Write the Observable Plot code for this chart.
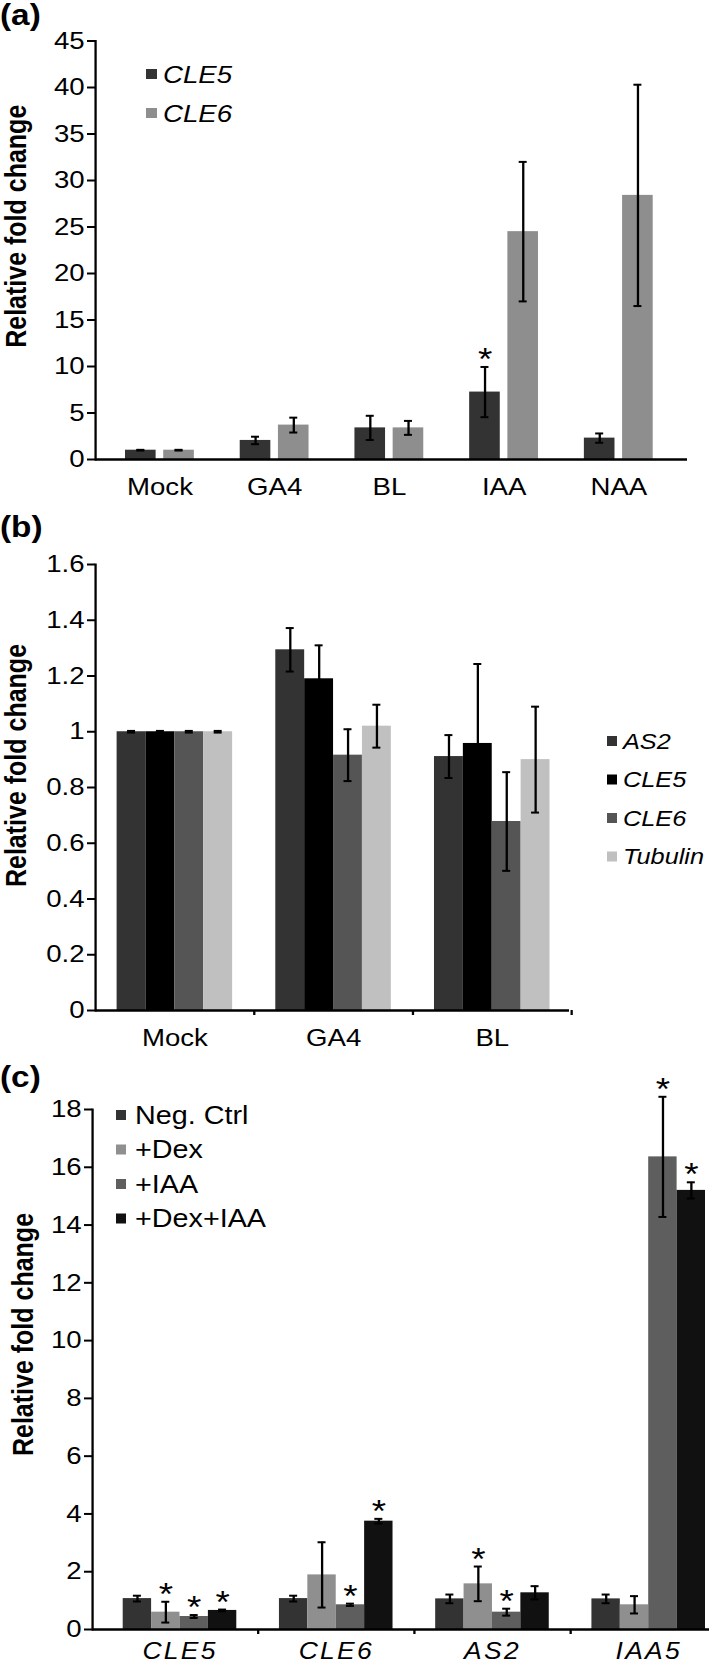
<!DOCTYPE html>
<html><head><meta charset="utf-8">
<script src="https://cdn.jsdelivr.net/npm/d3@7"></script>
<script src="https://cdn.jsdelivr.net/npm/@observablehq/plot@0.6"></script>
<style>
html,body{margin:0;padding:0;background:#fff;overflow:hidden}
#wrap{position:relative;width:709px;height:1665px;font-family:"Liberation Sans",Arial,sans-serif}
#wrap > svg{position:absolute;left:0;margin:0;max-width:none}
.pc g[aria-label="x-axis tick label"] text{letter-spacing:2px}
</style></head><body><div id="wrap"></div>
<script>
// ---------- Panel (a) data ----------
const aTreatments = ["Mock", "GA4", "BL", "IAA", "NAA"];
const aGenes = ["CLE5", "CLE6"];
const aColors = ["#333333", "#8e8e8e"];
const aCLE5 = [1.0, 2.05, 3.4, 7.25, 2.3];
const aCLE5err = [0.04, 0.4, 1.3, 2.7, 0.5];
const aCLE5sig = [false, false, false, true, false];
const aCLE6 = [1.0, 3.7, 3.4, 24.5, 28.4];
const aCLE6err = [0.04, 0.8, 0.75, 7.5, 11.9];
const aCLE6sig = [false, false, false, false, false];
const aTicks = [0, 5, 10, 15, 20, 25, 30, 35, 40, 45];

// ---------- Panel (b) data ----------
const bTreatments = ["Mock", "GA4", "BL"];
const bGenes = ["AS2", "CLE5", "CLE6", "Tubulin"];
const bColors = ["#333333", "#000000", "#555555", "#c0c0c0"];
const bAS2 = [1.0, 1.294, 0.911];
const bAS2err = [0.003, 0.078, 0.077];
const bCLE5 = [1.0, 1.19, 0.958];
const bCLE5err = [0.003, 0.12, 0.285];
const bCLE6 = [1.0, 0.916, 0.678];
const bCLE6err = [0.003, 0.093, 0.177];
const bTubulin = [1.0, 1.02, 0.9];
const bTubulinErr = [0.003, 0.077, 0.19];
const bTicks = [0, 0.2, 0.4, 0.6, 0.8, 1, 1.2, 1.4, 1.6];

// ---------- Panel (c) data ----------
const cGenes = ["CLE5", "CLE6", "AS2", "IAA5"];
const cTreatments = ["Neg. Ctrl", "+Dex", "+IAA", "+Dex+IAA"];
const cColors = ["#333333", "#8f8f8f", "#5e5e5e", "#111111"];
const cNeg = [1.07, 1.07, 1.06, 1.06];
const cNegErr = [0.1, 0.1, 0.15, 0.15];
const cNegSig = [false, false, false, false];
const cDex = [0.6, 1.89, 1.58, 0.855];
const cDexErr = [0.36, 1.13, 0.6, 0.3];
const cDexSig = [true, false, true, false];
const cIAA = [0.45, 0.855, 0.6, 16.36];
const cIAAErr = [0.05, 0.04, 0.12, 2.08];
const cIAASig = [true, true, true, true];
const cDexIAA = [0.66, 3.75, 1.27, 15.2];
const cDexIAAErr = [0.03, 0.08, 0.23, 0.28];
const cDexIAASig = [true, true, false, true];
const cTicks = [0, 2, 4, 6, 8, 10, 12, 14, 16, 18];

const FONT = "'Liberation Sans', Arial, Helvetica, sans-serif";
const S = 1.15;             // horizontal stretch of the original figure
const X = v => v / S;       // page px -> drawing units
const W0 = 709 / S;
const wrap = document.getElementById("wrap");

function stretch(svg, height, top) {
  svg.setAttribute("width", 709);
  svg.setAttribute("height", height);
  svg.setAttribute("preserveAspectRatio", "none");
  svg.style.width = "709px";
  svg.style.height = height + "px";
  svg.style.top = top + "px";
}

function groupedPanel(cfg) {
  const {cats, series, values, errs, sigs, colors, range, paddingInner, barGap = 0,
    yMax, yTicks, top, height, marginLeft, marginRight, marginTop, marginBottom,
    catItalic = false, catPad = 18, catSize = 24, boundaryTicks = false, titleX, titleDy, className = ""} = cfg;
  const r = range.map(X);
  const band = d3.scaleBand().domain(cats).range(r).paddingInner(paddingInner).paddingOuter(0);
  const bw = band.bandwidth(), step = band.step();
  const n = series.length;
  const gap = X(barGap);
  const w = (bw - (n - 1) * gap) / n;
  const cap = X(8);
  const pxPerUnit = (height - marginTop - marginBottom) / yMax;
  const rows = series.map((s, i) => cats.map((c, j) => ({
    cat: c, series: s, value: values[i][j], err: errs[i][j], sig: sigs ? sigs[i][j] : false
  })));
  const marks = [];
  series.forEach((s, i) => {
    const o = i * (w + gap);
    marks.push(Plot.barY(rows[i], {x: "cat", y: "value", fill: colors[i], insetLeft: o, insetRight: bw - o - w}));
  });
  marks.push(Plot.ruleY([0], {stroke: "black", strokeWidth: 2.5}));
  marks.push(Plot.frame({anchor: "left", stroke: "black", strokeWidth: 2}));
  if (boundaryTicks) {
    marks.push(Plot.ruleX(cats, {x: d => d, y1: 0, y2: -5 / pxPerUnit, dx: step / 2, stroke: "black", strokeWidth: 2}));
  }
  series.forEach((s, i) => {
    const o = i * (w + gap);
    const cx = o + w / 2 - bw / 2;
    const capL = o + w / 2 - cap / 2, capR = bw - (o + w / 2 + cap / 2);
    marks.push(Plot.ruleX(rows[i], {x: "cat", y1: d => d.value - d.err, y2: d => d.value + d.err, dx: cx, stroke: "black", strokeWidth: 2}));
    marks.push(Plot.tickY(rows[i], {x: "cat", y: d => d.value + d.err, insetLeft: capL, insetRight: capR, stroke: "black", strokeWidth: 2}));
    marks.push(Plot.tickY(rows[i], {x: "cat", y: d => d.value - d.err, insetLeft: capL, insetRight: capR, stroke: "black", strokeWidth: 2}));
    marks.push(Plot.text(rows[i].filter(d => d.sig), {x: "cat", y: d => d.value + d.err, text: () => "*", dx: cx, dy: 3, lineAnchor: "bottom", fontSize: 32, fill: "black"}));
  });
  marks.push(Plot.axisY({ticks: yTicks, tickFormat: d => String(d), tickSize: X(8), tickPadding: X(3), fontSize: 24, strokeWidth: 2, label: null}));
  marks.push(Plot.axisX({tickSize: 0, tickPadding: catPad, fontSize: catSize, fontStyle: catItalic ? "italic" : "normal", label: null}));
  marks.push(Plot.text(["Relative fold change"], {frameAnchor: "left", dx: X(titleX - marginLeft), dy: titleDy, rotate: -90, textAnchor: "middle", lineAnchor: "middle", fontWeight: "bold", fontSize: 25, fill: "black"}));
  const svg = Plot.plot({
    width: W0, height, marginLeft: X(marginLeft), marginRight: X(marginRight), marginTop, marginBottom,
    style: {fontFamily: FONT, color: "black", background: "transparent", overflow: "hidden"},
    x: {domain: cats, range: r, paddingInner, paddingOuter: 0, round: false},
    y: {domain: [0, yMax]},
    marks
  });
  stretch(svg, height, top);
  if (className) svg.classList.add(className);
  wrap.appendChild(svg);
}

// Panel (a)
groupedPanel({
  cats: aTreatments, series: aGenes, values: [aCLE5, aCLE6], errs: [aCLE5err, aCLE6err], sigs: [aCLE5sig, aCLE6sig],
  colors: aColors, range: [125, 652.7], paddingInner: 0.4, barGap: 7.6,
  yMax: 45, yTicks: aTicks, top: 0, height: 505, marginLeft: 95, marginRight: 22, marginTop: 40.5, marginBottom: 46,
  titleX: 16, titleDy: -24
});
// Panel (b)
groupedPanel({
  cats: bTreatments, series: bGenes, values: [bAS2, bCLE5, bCLE6, bTubulin], errs: [bAS2err, bCLE5err, bCLE6err, bTubulinErr],
  colors: bColors, range: [116.6, 549.5], paddingInner: 0.272,
  yMax: 1.6, yTicks: bTicks, top: 520, height: 540, marginLeft: 95, marginRight: 140, marginTop: 44, marginBottom: 50,
  boundaryTicks: true, titleX: 16, titleDy: -22
});
// Panel (c)
groupedPanel({
  cats: cGenes, series: cTreatments, values: [cNeg, cDex, cIAA, cDexIAA], errs: [cNegErr, cDexErr, cIAAErr, cDexIAAErr],
  sigs: [cNegSig, cDexSig, cIAASig, cDexIAASig],
  colors: cColors, range: [122.7, 705], paddingInner: 0.273,
  yMax: 18, yTicks: cTicks, top: 1060, height: 605, marginLeft: 92, marginRight: 0, marginTop: 49, marginBottom: 36,
  catItalic: true, catPad: 13, catSize: 23, boundaryTicks: true, titleX: 23, titleDy: -35, className: "pc"
});

// ---------- Overlay: panel labels and legends ----------
const NS = "http://www.w3.org/2000/svg";
const ov = document.createElementNS(NS, "svg");
ov.setAttribute("viewBox", `0 0 ${W0} 1665`);
stretch(ov, 1665, 0);
ov.style.pointerEvents = "none"; ov.style.fontFamily = FONT;
wrap.appendChild(ov);
function addText(x, y, str, size, opts = {}) {
  const t = document.createElementNS(NS, "text");
  t.setAttribute("x", X(x)); t.setAttribute("y", y);
  t.setAttribute("font-size", size);
  if (opts.bold) t.setAttribute("font-weight", "bold");
  if (opts.italic) t.setAttribute("font-style", "italic");
  t.setAttribute("fill", "black");
  t.textContent = str;
  ov.appendChild(t);
}
function addRect(x, y, w, h, fill) {
  const r = document.createElementNS(NS, "rect");
  r.setAttribute("x", X(x)); r.setAttribute("y", y); r.setAttribute("width", X(w)); r.setAttribute("height", h);
  r.setAttribute("fill", fill);
  ov.appendChild(r);
}
addText(0, 25, "(a)", 29, {bold: true});
addText(0, 537, "(b)", 29, {bold: true});
addText(0, 1087, "(c)", 29, {bold: true});

aGenes.forEach((g, i) => {
  const cy = 74 + i * 39;
  addRect(146, cy - 5, 11, 10, aColors[i]);
  addText(163, cy + 9, g, 24, {italic: true});
});
bGenes.forEach((g, i) => {
  const cy = 741 + i * 38.5;
  addRect(607, cy - 5, 10, 10, bColors[i]);
  addText(623, cy + 8, g, 22, {italic: true});
});
cTreatments.forEach((g, i) => {
  const cy = 1115 + i * 34.5;
  addRect(116, cy - 5, 10, 10, cColors[i]);
  addText(135, cy + 9, g, 25);
});
</script>
</body></html>
